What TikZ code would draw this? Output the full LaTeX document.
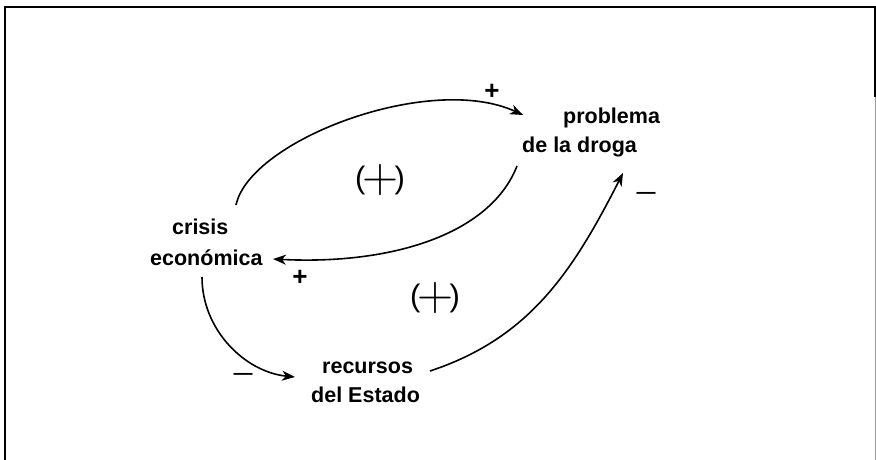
\documentclass[tikz,border=0pt]{standalone}
\usepackage{fontspec}
\setmainfont{Liberation Sans}
\newfontfamily\lmr{Latin Modern Roman}
\usetikzlibrary{arrows.meta}
\newcommand{\loopsign}{{\fontsize{31}{31}\selectfont(\kern-3.5pt\raisebox{-4pt}{\lmr\fontsize{50}{50}\selectfont +}\kern-3.5pt)}}
\begin{document}
\begin{tikzpicture}[x=1pt,y=-1pt,
  lbl/.style={font=\fontsize{21.5}{21.5}\selectfont\bfseries, inner sep=0pt, anchor=base west},
  plussign/.style={font=\fontsize{26}{26}\selectfont\bfseries, inner sep=0pt},
  minussign/.style={font=\fontsize{19}{19}\selectfont\bfseries, inner sep=0pt},
  loopnode/.style={inner sep=0pt},
  conn/.style={line width=1.6pt, -{Stealth[length=13pt,width=10pt,inset=4pt]}},
  frame/.style={line width=1.5pt}
]
\useasboundingbox (0,0) rectangle (876,460);
% frame
\draw[frame] (5,460) -- (5,7) -- (875,7) -- (875,97);
\draw[line width=1pt, black!40] (875,97) -- (875,460);

% variable names
\node[lbl] (pd1) at (563,124) {problema};
\node[lbl] (pd2) at (522,152) {de la droga};
\node[lbl] (ce1) at (172,234) {crisis};
\node[lbl] (ce2) at (150,265) {económica};
\node[lbl] (re1) at (322,373) {recursos};
\node[lbl] (re2) at (311,402) {del Estado};

% connector end points
\coordinate (c1s) at (236,205);
\coordinate (c1e) at (523,115);
\coordinate (c2s) at (517,166);
\coordinate (c2e) at (273,259);
\coordinate (c3s) at (202,277);
\coordinate (c3e) at (295,377);
\coordinate (c4s) at (430,371);
\coordinate (c4e) at (623,173);

% connectors
\draw[conn] (c1s) .. controls (250,140) and (430,72) .. (c1e);
\draw[conn] (c2s) .. controls (490,235) and (390,265) .. (c2e);
\draw[conn] (c3s) .. controls (202,330) and (245,372) .. (c3e);
\draw[conn] (c4s) .. controls (530,338) and (573,271) .. (c4e);

% polarity signs
\node[plussign] (s1) at (492,92) {+};
\node[plussign] (s2) at (300,278) {+};
\node[minussign] (s3) at (243,376) {—};
\node[minussign] (s4) at (646,195) {—};

% loop polarity
\node[loopnode] (l1) at (380,180) {\loopsign};
\node[loopnode] (l2) at (435,298) {\loopsign};
\end{tikzpicture}
\end{document}
